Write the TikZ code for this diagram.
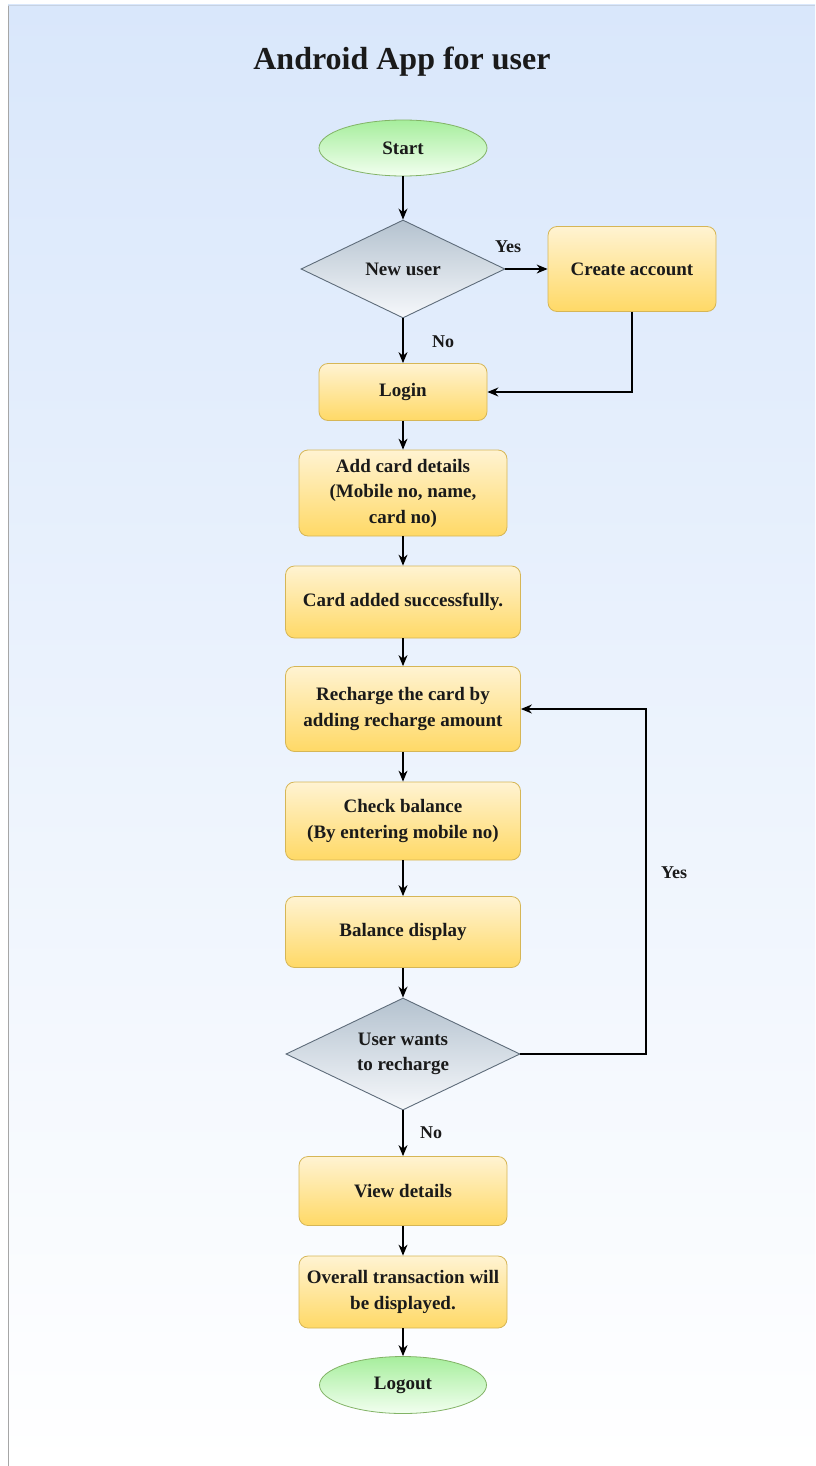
\documentclass[tikz,border=0pt]{standalone}
\usepackage{fontspec}
\setmainfont{Liberation Serif}
\usetikzlibrary{shapes.geometric,arrows.meta}
\definecolor{bgtop}{HTML}{D9E7FB}
\definecolor{ytop}{HTML}{FFF3D2}
\definecolor{ybot}{HTML}{FFD966}
\definecolor{yborder}{HTML}{D6B656}
\definecolor{gtop}{HTML}{A6EE9C}
\definecolor{gbot}{HTML}{F2FFF0}
\definecolor{gborder}{HTML}{82B366}
\definecolor{dtop}{HTML}{B4C2CF}
\definecolor{dbot}{HTML}{F6F8FB}
\definecolor{dborder}{HTML}{5E6C7A}
\definecolor{txt}{HTML}{1A1A1A}
\begin{document}
\begin{tikzpicture}[x=1pt,y=-1pt,
  nodefont/.style={font=\bfseries\fontsize{19}{25.5}\selectfont, text=txt, align=center},
  procbox/.style={nodefont, rectangle, rounded corners=9pt, draw=yborder, line width=0.8pt,
     top color=ytop, bottom color=ybot, inner sep=2pt},
  termnode/.style={nodefont, ellipse, draw=gborder, line width=0.8pt,
     top color=gtop, bottom color=gbot, inner sep=0pt, minimum width=168pt, minimum height=56pt},
  decnode/.style={nodefont, diamond, draw=dborder, line width=0.9pt,
     top color=dtop, bottom color=dbot, inner sep=0pt, aspect=2},
  flow/.style={draw=black, line width=1.3pt, -{Stealth[length=11pt,width=9pt]}},
  elabel/.style={font=\bfseries\fontsize{18}{22}\selectfont, text=txt}
]
\useasboundingbox (0,0) rectangle (815,1466);
\shade[top color=bgtop, bottom color=white] (8,5) rectangle (815,1466);
\draw[draw=gray!70, line width=1pt] (8,5) -- (8,1466);
\draw[draw=bgtop!80!gray, line width=0.6pt] (8,5) -- (815,5);

\node[font=\bfseries\fontsize{32}{36}\selectfont, text=txt] (title) at (402,62) {Android App for user};

\node[termnode] (start) at (403,148) {Start};
\node[decnode, minimum width=204pt, minimum height=98pt] (newuser) at (403,269) {New user};
\node[procbox, minimum width=168pt, minimum height=85pt] (create) at (632,269) {Create account};
\node[procbox, minimum width=168pt, minimum height=57pt] (login) at (403,392) {Login};
\node[procbox, minimum width=208pt, minimum height=86pt] (addcard) at (403,493) {Add card details\\(Mobile no, name,\\card no)};
\node[procbox, minimum width=235pt, minimum height=72pt] (added) at (403,602) {Card added successfully.};
\node[procbox, minimum width=235pt, minimum height=85pt] (recharge) at (403,709) {Recharge the card by\\adding recharge amount};
\node[procbox, minimum width=235pt, minimum height=78pt] (check) at (403,821) {Check balance\\(By entering mobile no)};
\node[procbox, minimum width=235pt, minimum height=71pt] (balance) at (403,932) {Balance display};
\node[decnode, minimum width=234pt, minimum height=112pt] (wants) at (403,1054) {User wants\\to recharge};
\node[procbox, minimum width=208pt, minimum height=69pt] (view) at (403,1191) {View details};
\node[procbox, minimum width=208pt, minimum height=72pt] (overall) at (403,1292) {Overall transaction will\\be displayed.};
\node[termnode, minimum width=167pt, minimum height=57pt] (logout) at (403,1385) {Logout};

\coordinate (loopc) at (646,1054);

\draw[flow] (start) -- (newuser);
\draw[flow] (newuser.east) -- (create.west);
\node[elabel] (yes1) at (508,247) {Yes};
\draw[flow] (newuser.south) -- (login.north);
\node[elabel] (no1) at (443,342) {No};
\draw[flow] (create.south) |- (login.east);
\draw[flow] (login) -- (addcard);
\draw[flow] (addcard) -- (added);
\draw[flow] (added) -- (recharge);
\draw[flow] (recharge) -- (check);
\draw[flow] (check) -- (balance);
\draw[flow] (balance) -- (wants.north);
\draw[flow] (wants.east) -- (loopc) |- (recharge.east);
\node[elabel] (yes2) at (674,873) {Yes};
\draw[flow] (wants.south) -- (view.north);
\node[elabel] (no2) at (431,1133) {No};
\draw[flow] (view) -- (overall);
\draw[flow] (overall) -- (logout);
\end{tikzpicture}
\end{document}
